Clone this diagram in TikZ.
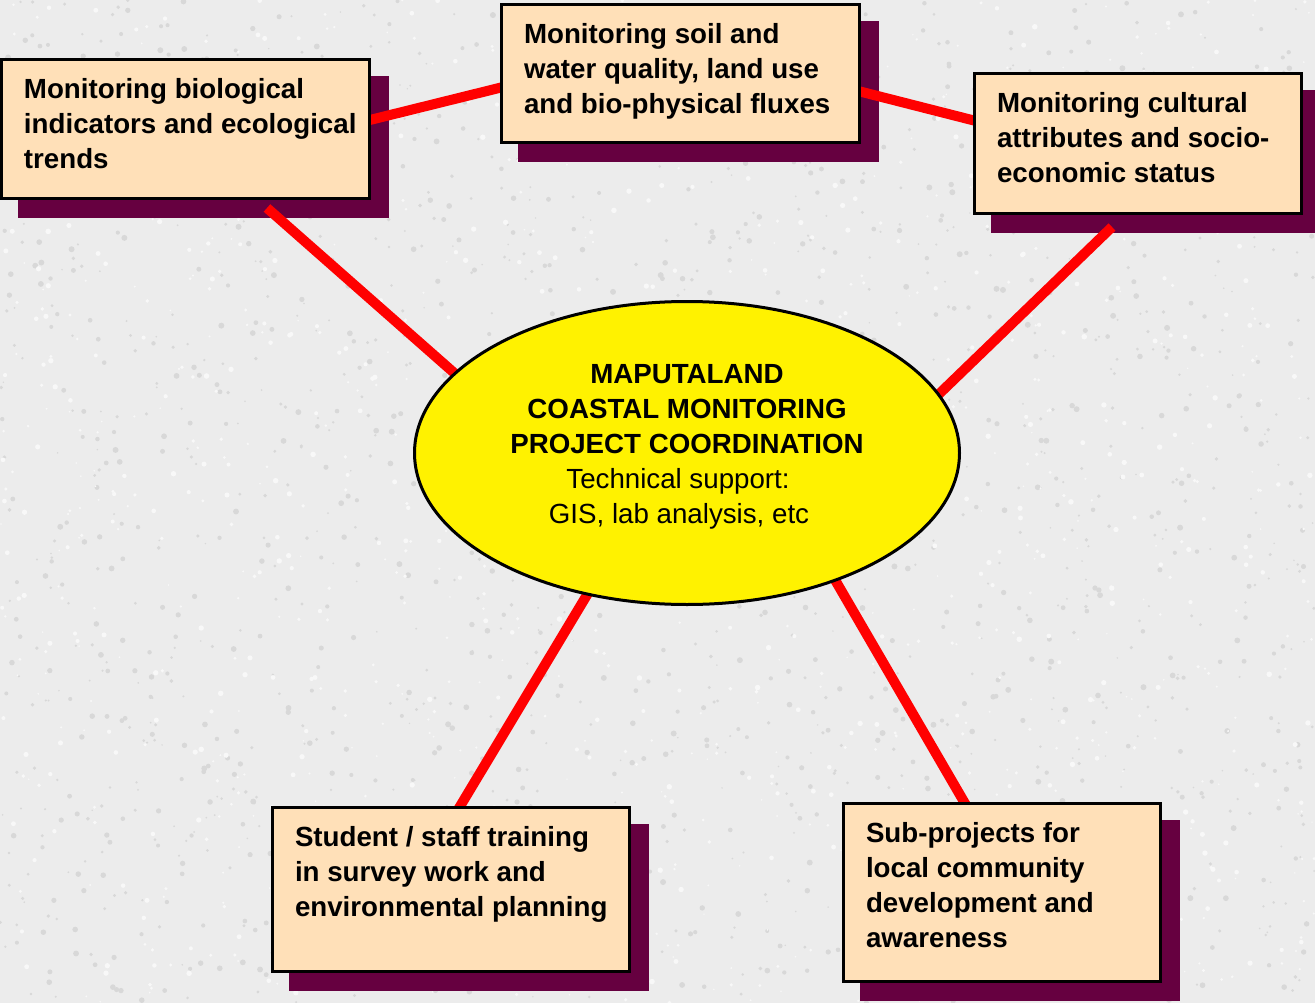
\documentclass[tikz,border=0pt]{standalone}
\usepackage{fontspec}
\setmainfont{Liberation Sans}
\usetikzlibrary{shapes.geometric}

\definecolor{paper}{RGB}{236,236,236}
\definecolor{grain}{RGB}{216,216,216}
\definecolor{sheen}{RGB}{248,248,248}
\definecolor{peach}{RGB}{255,224,184}
\definecolor{plum}{RGB}{102,0,64}

\pgfdeclarelayer{bg}
\pgfdeclarelayer{links}
\pgfsetlayers{bg,links,main}

% top-aligned, left-inset text block of a card: width, height, lines
\newcommand{\cardtext}[3]{\parbox[c][#2pt][t]{#1pt}{\raggedright\leftskip=22.5pt\rule{0pt}{39pt}#3}}

\begin{document}
\begin{tikzpicture}[x=1pt,y=-1pt,
  card/.style={rectangle, draw=black, line width=3pt, fill=peach, inner sep=0pt,
    outer sep=0pt, anchor=north west, font=\fontsize{27.7pt}{35pt}\selectfont\bfseries},
  hub/.style={ellipse, draw=black, line width=3pt, fill=yellow, inner sep=0pt,
    outer sep=0pt, minimum width=545pt, minimum height=303pt,
    font=\fontsize{27.7pt}{35pt}\selectfont},
  link/.style={draw=red, line width=10pt},
  shade/.style={fill=plum}]
\useasboundingbox (0,0) rectangle (1315,1003);

% cards
\node[card] (bio) at (1.5,59.5)
  {\cardtext{368}{139}{Monitoring biological\\indicators and ecological\\trends}};
\node[card] (soil) at (501.5,4.5)
  {\cardtext{358}{138}{Monitoring soil and\\water quality, land use\\and bio-physical fluxes}};
\node[card] (culture) at (974.5,73.5)
  {\cardtext{327}{140}{Monitoring cultural\\attributes and socio-\\economic status}};
\node[card] (train) at (272.5,807.5)
  {\cardtext{357}{164}{Student / staff training\\in survey work and\\environmental planning}};
\node[card] (sub) at (843.5,803.5)
  {\cardtext{317}{178}{Sub-projects for\\local community\\development and\\awareness}};

% central project ellipse
\node[hub] (hub) at (687,453)
  {\parbox[c][180pt][t]{380pt}{\centering\rule{0pt}{20pt}{\bfseries MAPUTALAND\\COASTAL MONITORING\\PROJECT COORDINATION}\\Technical support:\kern18pt\\GIS, lab analysis, etc\kern16pt}};

% textured backdrop and card shadows
\begin{pgfonlayer}{bg}
  \fill[paper] (0,0) rectangle (1315,1003);
  \pgfmathsetseed{42}
  \foreach \i in {1,...,1800}{
    \pgfmathsetmacro\px{rnd*1315}
    \pgfmathsetmacro\py{rnd*1003}
    \pgfmathsetmacro\pr{0.8+rnd*2.2}
    \fill[grain] (\px,\py) circle[radius=\pr];
  }
  \foreach \i in {1,...,1200}{
    \pgfmathsetmacro\px{rnd*1315}
    \pgfmathsetmacro\py{rnd*1003}
    \pgfmathsetmacro\pr{0.8+rnd*2.0}
    \fill[sheen] (\px,\py) circle[radius=\pr];
  }
  \foreach \b in {bio,soil,culture,train,sub}
    \fill[shade] ([shift={(16,16.5)}]\b.north west) rectangle ([shift={(19,19.5)}]\b.south east);
\end{pgfonlayer}

% red connectors
\begin{pgfonlayer}{links}
  \draw[link] ([shift={(-7.3,-7.1)}]bio.east) -- ([shift={(9.3,11.6)}]soil.west);
  \draw[link] ([shift={(-9.3,15.5)}]soil.east) -- ([shift={(5.3,-21.5)}]culture.west);
  \draw[link] ([shift={(81.5,9.5)}]bio.south) -- ([shift={(-226.5,-74.5)}]hub.center);
  \draw[link] ([shift={(-26,13.5)}]culture.south) -- ([shift={(245.8,-53)}]hub.center);
  \draw[link] ([shift={(-95.9,135.1)}]hub.center) -- ([shift={(6.9,2.4)}]train.north);
  \draw[link] ([shift={(146,123.4)}]hub.center) -- ([shift={(-35,3.4)}]sub.north);
\end{pgfonlayer}
\end{tikzpicture}
\end{document}
